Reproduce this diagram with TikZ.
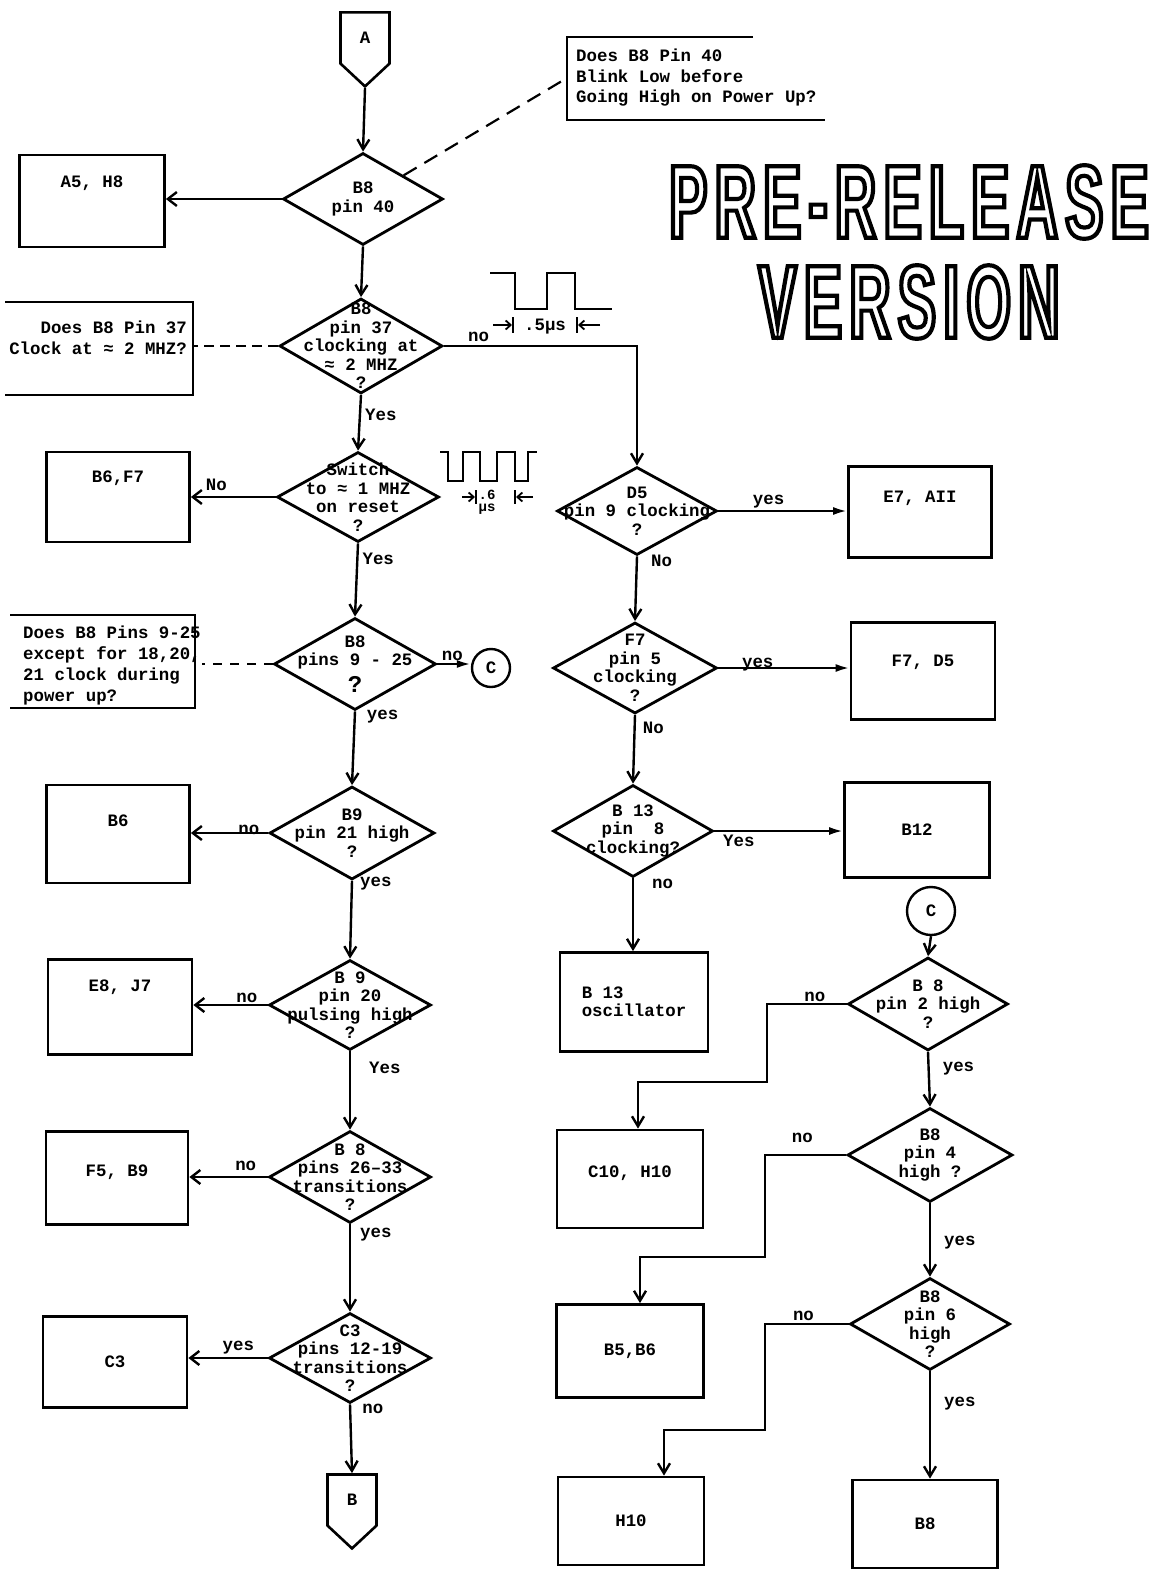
\documentclass[tikz,border=0pt]{standalone}
\usepackage{fontspec}
\setmainfont{Liberation Mono}
\newfontfamily\bannerfont{Liberation Sans}[FakeStretch=0.55, FakeBold=4, LetterSpace=7]
\usetikzlibrary{arrows.meta,positioning,shapes.geometric,shapes.symbols}

% white letters, black stroke
\newcommand\hollow[1]{\special{pdf:code 0 G}#1}

\begin{document}
\begin{tikzpicture}[x=1pt, y=-1pt, line width=2.4pt,
    font=\fontsize{17.4}{18.5}\selectfont\bfseries,
    dec/.style={diamond, draw, line width=2.8pt, inner sep=0pt,
                minimum width=162pt, minimum height=92pt},
    dtxt/.style={align=center, inner sep=0pt},
    box/.style={rectangle, draw, line width=2.8pt, inner sep=0pt,
                minimum width=145pt, minimum height=93pt, align=center},
    up/.style={text depth=#1},
    note/.style={align=left, inner sep=0pt,
                 font=\fontsize{17.4}{20.5}\selectfont\bfseries},
    frame/.style={line width=2.2pt},
    offpage/.style={signal, draw, line width=2.6pt, signal to=south,
                    signal pointer angle=94, minimum width=49pt,
                    minimum height=56pt, inner sep=0pt},
    conn/.style={circle, draw, line width=2.4pt, inner sep=0pt},
    flow/.style={-{Straight Barb[length=10pt,width=12pt]}},
    side/.style={-{Straight Barb[length=9pt,width=14pt]}},
    hit/.style={-{Latex[length=14pt,width=8pt]}},
    hint/.style={line width=2.2pt, dash pattern=on 15pt off 9pt},
    lbl/.style={inner sep=1pt},
    wave/.style={line width=2.4pt},
    dimarr/.style={line width=1.8pt, -{Straight Barb[length=5pt,width=9pt]}},
    banner/.style={inner sep=0pt, text=white,
                   font=\bannerfont\bfseries\fontsize{104}{104}\selectfont},
  ]

  % page
  \fill[white] (0,0) rectangle (1155,1573);

  % left column of checks
  \node[offpage] (A) at (365,38) {A};
  \node[dec, minimum width=160pt, label={[dtxt]center:B8\\pin 40}] (d1) at (363,199) {};
  \node[dec, minimum width=163pt, minimum height=95pt,
        label={[dtxt]center:B8\\pin 37\\clocking at\\≈ 2 MHZ\\?}] (d2) at (361,346) {};
  \node[dec, minimum height=90pt,
        label={[dtxt]center:Switch\\to ≈ 1 MHZ\\on reset\\?}] (d3) at (358,497) {};
  \node[dec, label={[dtxt]center:B8\\pins 9 - 25\\[6pt]\fontsize{24}{24}\selectfont ?}] (d4) at (355,664) {};
  \node[dec, minimum width=165pt, minimum height=93pt,
        label={[dtxt]center:B9\\pin 21 high\\?}] (d5) at (352,833) {};
  \node[dec, minimum height=90pt,
        label={[dtxt]center:B 9\\pin 20\\pulsing high\\?}] (d6) at (350,1005) {};
  \node[dec, label={[dtxt]center:B 8\\pins 26–33\\transitions\\?}] (d7) at (350,1177) {};
  \node[dec, minimum height=90pt,
        label={[dtxt]center:C3\\pins 12-19\\transitions\\?}] (d8) at (350,1358) {};
  \node[offpage] (B) at (352,1500) {B};

  % repair boxes on the left
  \node[box, minimum height=92pt, up=38pt] (b1) at (92,201) {A5, H8};
  \node[box, minimum width=143pt, minimum height=90pt, up=40pt] (b2) at (118,497) {B6,F7};
  \node[box, minimum width=143pt, minimum height=98pt, up=26pt] (b3) at (118,834) {B6};
  \node[box, minimum width=144pt, minimum height=95pt, up=42pt] (b4) at (120,1007) {E8, J7};
  \node[box, minimum width=142pt, up=14pt] (b5) at (117,1178) {F5, B9};
  \node[box, minimum width=144pt, minimum height=91pt] (b6) at (115,1362) {C3};

  % notes
  \node[note, anchor=west, inner xsep=8pt] (n1) at (567,78)
    {Does B8 Pin 40\\Blink Low before\\Going High on Power Up?};
  \draw[frame] (753,37) -| (567,120) -- (825,120);
  \node[note, anchor=east, inner xsep=5pt, align=right] (n2) at (193,338)
    {Does B8 Pin 37\\Clock at ≈ 2 MHZ?};
  \draw[frame] (5,302) -| (193,395) -- (5,395);
  \node[note, anchor=west, font=\fontsize{17.4}{21}\selectfont\bfseries] (n3) at (22,665)
    {Does B8 Pins 9-25\\except for 18,20,\\21 clock during\\power up?};
  \draw[frame] (10,615) -| (195,708) -- (10,708);

  % right column of checks
  \node[dec, minimum width=160pt, minimum height=88pt,
        label={[dtxt]center:D5\\pin 9 clocking\\?}] (rd1) at (637,511) {};
  \node[dec, minimum width=164pt, minimum height=91pt,
        label={[dtxt]center:F7\\pin 5\\clocking\\?}] (rd2) at (635,668) {};
  \node[dec, minimum width=160pt,
        label={[dtxt]center:B 13\\pin\ \ 8\\clocking?}] (rd3) at (633,831) {};
  \node[conn, minimum size=38pt] (c1) at (491,668) {C};
  \node[conn, minimum size=48pt] (c2) at (931,911) {C};
  \node[dec, minimum width=160pt, minimum height=93pt,
        label={[dtxt]center:B 8\\pin 2 high\\?}] (rd4) at (928,1004) {};
  \node[dec, minimum width=165pt, minimum height=94pt,
        label={[dtxt]center:B8\\pin 4\\high ?}] (rd5) at (930,1155) {};
  \node[dec, minimum width=160pt,
        label={[dtxt]center:B8\\pin 6\\high\\?}] (rd6) at (930,1324) {};

  % repair boxes on the right
  \node[box, minimum width=143pt, minimum height=91pt, up=30pt] (rb1) at (920,512) {E7, AII};
  \node[box, minimum width=144pt, minimum height=97pt, up=20pt] (rb2) at (923,671) {F7, D5};
  \node[box, minimum height=95pt] (rb3) at (917,830) {B12};
  \node[box, minimum width=148pt, minimum height=99pt, align=left] (ob) at (634,1002) {B 13\\oscillator};
  \node[box, minimum width=146pt, minimum height=98pt, up=14pt] (cb) at (630,1179) {C10, H10};
  \node[box, minimum width=147pt] (bb) at (630,1351) {B5,B6};
  \node[box, minimum width=146pt, minimum height=88pt] (hb) at (631,1521) {H10};
  \node[box, minimum height=88pt] (eb) at (925,1524) {B8};
  \coordinate (j1) at (767,1082);
  \coordinate (j2) at (765,1257);
  \coordinate (j3) at (765,1430);

  % main flow
  \draw[flow] (A.south) -- (d1.north);
  \draw[flow] (d1.south) -- (d2.north);
  \draw[flow] (d2.south) -- node[lbl, pos=0.36, anchor=west, xshift=3pt] {Yes} (d3.north);
  \draw[flow] (d3.south) -- node[lbl, pos=0.21, anchor=west, xshift=3pt] {Yes} (d4.north);
  \draw[flow] (d4.south) -- node[lbl, pos=0.07, anchor=west, xshift=10pt] {yes} (d5.north);
  \draw[flow] (d5.south) -- node[lbl, pos=0.03, anchor=west, xshift=6pt] {yes} (d6.north);
  \draw[flow] (d6.south) -- node[lbl, pos=0.21, anchor=west, xshift=17pt] {Yes} (d7.north);
  \draw[flow] (d7.south) -- node[lbl, pos=0.12, anchor=west, xshift=8pt] {yes} (d8.north);
  \draw[flow] (d8.south) -- node[lbl, pos=0.07, anchor=west, xshift=10pt] {no} (B.north);

  % branches to the left
  \draw[side] (d1.west) -- (d1.west -| b1.east);
  \draw[side] (d3.west) -- node[lbl, pos=0.7, above=4pt] {No} (d3.west -| b2.east);
  \draw[side] (d5.west) -- node[lbl, pos=0.25, yshift=3pt] {no} (d5.west -| b3.east);
  \draw[side] (d6.west) -- node[lbl, pos=0.28, above=0pt] {no} (d6.west -| b4.east);
  \draw[side] (d7.west) -- node[lbl, pos=0.28, above=4pt] {no} (d7.west -| b5.east);
  \draw[side] (d8.west) -- node[lbl, pos=0.37, above=2pt] {yes} (d8.west -| b6.east);

  % note leaders
  \draw[hint] (d1.north east) -- (n1.west);
  \draw[hint, dash pattern=on 10pt off 6pt] (d2.west) -- (d2.west -| n2.east);
  \draw[hint, dash pattern=on 9pt off 8pt] (d4.west) -- (d4.west -| n3.east);

  % right column flow
  \draw[flow] (d2.east) -| node[lbl, pos=0.09, above=2pt] {no} (rd1.north);
  \draw[hit] (d4.east) -- node[lbl, pos=0.45, above=1pt] {no} (d4.east -| c1.west);
  \draw[hit] (rd1.east) -- node[lbl, pos=0.39, above=1pt] {yes} (rd1.east -| rb1.west);
  \draw[flow] (rd1.south) -- node[lbl, pos=0.07, anchor=west, xshift=12pt] {No} (rd2.north);
  \draw[hit] (rd2.east) -- node[lbl, pos=0.3, yshift=3pt] {yes} (rd2.east -| rb2.west);
  \draw[flow] (rd2.south) -- node[lbl, pos=0.19, anchor=west, xshift=6pt] {No} (rd3.north);
  \draw[hit] (rd3.east) -- node[lbl, pos=0.19, below=2pt] {Yes} (rd3.east -| rb3.west);
  \draw[flow] (rd3.south) -- node[lbl, pos=0.08, anchor=west, xshift=17pt] {no} (rd3.south |- ob.north);

  \draw[flow] (c2.south) -- (rd4.north);
  \draw[flow] (rd4.south) -- node[lbl, pos=0.31, anchor=west, xshift=12pt] {yes} (rd5.north);
  \draw[flow] (rd5.south) -- node[lbl, pos=0.54, anchor=west, xshift=12pt] {yes} (rd6.north);
  \draw[flow] (rd6.south) -- node[lbl, pos=0.3, anchor=west, xshift=12pt] {yes} (rd6.south |- eb.north);
  \draw[flow] (rd4.west) -| node[lbl, pos=0.2, above=0pt] {no} (j1) -| ([xshift=8pt]cb.north);
  \draw[flow] (rd5.west) -| node[lbl, pos=0.27, above=10pt] {no} (j2) -| ([xshift=10pt]bb.north);
  \draw[flow] (rd6.west) -| node[lbl, pos=0.27, above=1pt] {no} (j3) -| ([xshift=33pt]hb.north);

  % clock waveforms
  \draw[wave] (490,273) -| (515,309) -| (547,273) -| (575,309) -- (612,309);
  \draw[dimarr] (493,325) -- (512,325);
  \draw[line width=1.8pt] (513,317) -- (513,333) (577,317) -- (577,333);
  \draw[dimarr] (600,325) -- (578,325);
  \node[lbl] (p1) at (545,327) {.5μs};

  \draw[wave] (440,452) -| (448,481) -| (463,452) -| (480,481)
    -| (497,452) -| (515,481) -| (528,452) -- (537,452);
  \draw[dimarr] (462,497) -- (475,497);
  \draw[line width=1.8pt] (476,490) -- (476,504) (515,490) -- (515,504);
  \draw[dimarr] (533,497) -- (516,497);
  \node[lbl, font=\fontsize{14}{14}\selectfont\bfseries] (p2) at (487,495) {.6};
  \node[lbl, font=\fontsize{14}{14}\selectfont\bfseries] (p3) at (487,509) {μs};

  % stamp
  \node[banner] (pre) at (909,202) {\hollow{PRE-RELEASE}};
  \node[banner] (ver) at (909,302) {\hollow{VERSION}};
\end{tikzpicture}
\end{document}
